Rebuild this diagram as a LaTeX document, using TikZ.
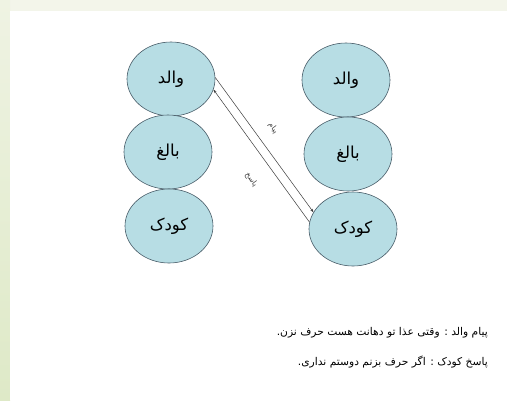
\documentclass[tikz,border=0pt]{standalone}
\usepackage{fontspec}
\usetikzlibrary{shapes.geometric,arrows.meta}
\TeXXeTstate=1
\newfontfamily\arabicfont[Script=Arabic]{DejaVu Sans}
\definecolor{stripTop}{RGB}{243,245,234}
\definecolor{stripA}{RGB}{239,243,227}
\definecolor{stripB}{RGB}{222,233,199}
\definecolor{egofill}{RGB}{183,221,228}
\definecolor{egodraw}{RGB}{72,92,104}
\definecolor{lineclr}{RGB}{60,60,60}
\tikzset{
  x=1pt,y=1pt,
  egostate/.style={ellipse,draw=egodraw,line width=0.6pt,fill=egofill,
    minimum width=88pt,minimum height=74pt,inner sep=0pt,
    font=\arabicfont\fontsize{16.5}{18}\selectfont},
  msg/.style={draw=lineclr,line width=0.5pt,-{Stealth[length=3.5pt,width=2.6pt]}},
  msglabel/.style={font=\arabicfont\fontsize{7.5}{9}\selectfont,text=lineclr,sloped,inner sep=0pt},
  caption/.style={anchor=east,inner sep=0pt,font=\arabicfont\fontsize{10.7}{13}\selectfont}
}
\begin{document}
\begin{tikzpicture}
\useasboundingbox (0,0) rectangle (507,-400);
\fill[stripTop] (0,0) rectangle (507,-11);
\shade[top color=stripA,bottom color=stripB] (0,0) rectangle (10,-400);
\fill[white] (10,-11) rectangle (507,-400);

\node[egostate] (lp) at (171,-79) {\beginR والد\endR};
\node[egostate] (la) at (168,-152) {\beginR بالغ\endR};
\node[egostate] (lc) at (169,-226) {\beginR کودک\endR};
\node[egostate] (rp) at (346,-80) {\beginR والد\endR};
\node[egostate] (ra) at (348,-154) {\beginR بالغ\endR};
\node[egostate] (rc) at (353,-229) {\beginR کودک\endR};

\draw[msg] (lp.2) -- node[msglabel,pos=0.45,above=13pt] {\beginR پیام\endR} (rc.157);
\draw[msg] (rc.171) -- node[msglabel,pos=0.42,below=18pt] {\beginR پاسخ\endR} (lp.-14);

\node[caption] (c1) at (488,-333) {\beginR پیام والد : وقتی عذا تو دهانت هست حرف نزن.\endR};
\node[caption] (c2) at (488,-362) {\beginR پاسخ کودک : اگر حرف بزنم دوستم نداری.\endR};
\end{tikzpicture}
\end{document}
